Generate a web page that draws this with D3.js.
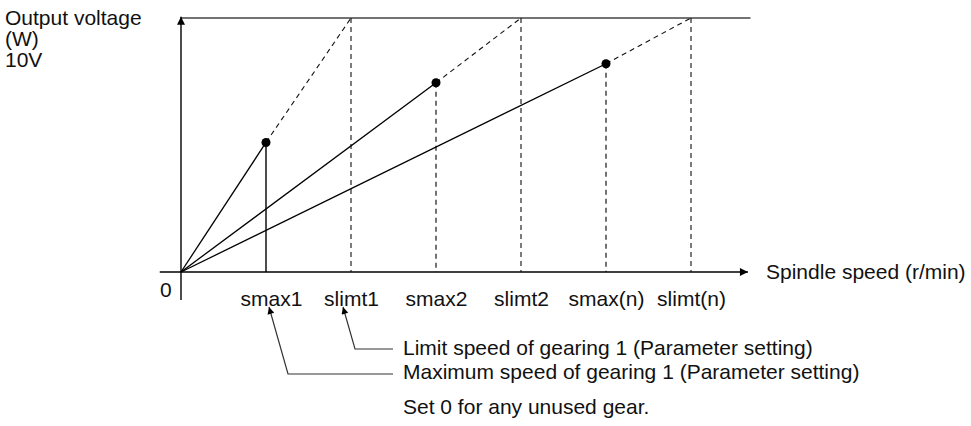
<!DOCTYPE html>
<html>
<head>
<meta charset="utf-8">
<script src="https://cdn.jsdelivr.net/npm/d3@7"></script>
<style>
  html, body { margin: 0; padding: 0; background: #fff; }
  svg text { font-family: Arial, "Liberation Sans", Helvetica, sans-serif; font-size: 21px; fill: #111; }
</style>
</head>
<body>
<svg id="chart" width="971" height="426"></svg>
<script>
// Spindle speed (r/min) at the maximum speed and at the limit speed of each gear
const gears = ["1", "2", "n"];
const smaxSpeeds = [1000, 3000, 5000];
const slimtSpeeds = [2000, 4000, 6000];
// Output voltage (V) reached at each maximum speed
const smaxVolts = [5.1, 7.45, 8.2];
const vFull = 10;

const tickSpeeds = [1000, 2000, 3000, 4000, 5000, 6000];
const tickLabels = ["smax1", "slimt1", "smax2", "slimt2", "smax(n)", "slimt(n)"];

const yTitle = ["Output voltage", "(W)", "10V"];
const xTitle = "Spindle speed (r/min)";
const notes = [
  "Limit speed of gearing 1 (Parameter setting)",
  "Maximum speed of gearing 1 (Parameter setting)",
  "Set 0 for any unused gear."
];

const svg = d3.select("#chart");
const x = d3.scaleLinear().domain([0, 6000]).range([181, 691]);
const y = d3.scaleLinear().domain([0, vFull]).range([272, 18]);

// arrowhead markers
const defs = svg.append("defs");
defs.append("marker")
  .attr("id", "axisArrow").attr("viewBox", "0 0 10 10")
  .attr("refX", 10).attr("refY", 5)
  .attr("markerWidth", 12).attr("markerHeight", 8)
  .attr("markerUnits", "userSpaceOnUse")
  .attr("orient", "auto")
  .append("path").attr("d", "M0,0 L10,5 L0,10 Z").attr("fill", "#000");
defs.append("marker")
  .attr("id", "noteArrow").attr("viewBox", "0 0 10 10")
  .attr("refX", 10).attr("refY", 5)
  .attr("markerWidth", 10).attr("markerHeight", 7)
  .attr("markerUnits", "userSpaceOnUse")
  .attr("orient", "auto")
  .append("path").attr("d", "M0,0 L10,5 L0,10 Z").attr("fill", "#000");

const g = svg.append("g");

// 10 V ceiling
g.append("line")
  .attr("x1", x(0)).attr("x2", x(6700))
  .attr("y1", y(vFull)).attr("y2", y(vFull))
  .attr("stroke", "#444").attr("stroke-width", 1.6);

// axes
g.append("line")
  .attr("x1", x(-250)).attr("x2", x(6670))
  .attr("y1", y(0)).attr("y2", y(0))
  .attr("stroke", "#000").attr("stroke-width", 1.4)
  .attr("marker-end", "url(#axisArrow)");
g.append("line")
  .attr("x1", x(0)).attr("x2", x(0))
  .attr("y1", y(-1.1)).attr("y2", y(10.05))
  .attr("stroke", "#000").attr("stroke-width", 1.4)
  .attr("marker-end", "url(#axisArrow)");

// limit-speed verticals (dashed)
g.selectAll("line.slimt").data(slimtSpeeds).join("line")
  .attr("class", "slimt")
  .attr("x1", d => x(d)).attr("x2", d => x(d))
  .attr("y1", y(vFull)).attr("y2", y(0))
  .attr("stroke", "#111").attr("stroke-width", 1.1)
  .attr("stroke-dasharray", "5,4");

// maximum-speed verticals: gear 1 solid, others dashed
g.selectAll("line.smax").data(smaxSpeeds).join("line")
  .attr("class", "smax")
  .attr("x1", d => x(d)).attr("x2", d => x(d))
  .attr("y1", (d, i) => y(smaxVolts[i])).attr("y2", y(0))
  .attr("stroke", "#000").attr("stroke-width", (d, i) => i === 0 ? 1.4 : 1.1)
  .attr("stroke-dasharray", (d, i) => i === 0 ? null : "5,4");

// voltage ramps from 0 up to smax
g.selectAll("line.ramp").data(smaxSpeeds).join("line")
  .attr("class", "ramp")
  .attr("x1", x(0)).attr("y1", y(0))
  .attr("x2", d => x(d)).attr("y2", (d, i) => y(smaxVolts[i]))
  .attr("stroke", "#000").attr("stroke-width", 1.3);

// continuation from smax to the limit speed (dashed)
g.selectAll("line.ext").data(smaxSpeeds).join("line")
  .attr("class", "ext")
  .attr("x1", d => x(d)).attr("y1", (d, i) => y(smaxVolts[i]))
  .attr("x2", (d, i) => x(slimtSpeeds[i])).attr("y2", y(vFull))
  .attr("stroke", "#111").attr("stroke-width", 1.1)
  .attr("stroke-dasharray", "5,4");

// points at smax
g.selectAll("circle.pt").data(smaxSpeeds).join("circle")
  .attr("class", "pt")
  .attr("cx", d => x(d)).attr("cy", (d, i) => y(smaxVolts[i]))
  .attr("r", 4.5).attr("fill", "#000");

// speed tick labels
const xAxis = d3.axisBottom(x)
  .tickValues(tickSpeeds)
  .tickFormat((d, i) => tickLabels[i])
  .tickSize(0).tickPadding(19);
const ax = g.append("g").attr("transform", `translate(0,${y(0)})`).call(xAxis);
ax.select(".domain").remove();
ax.selectAll("text")
  .attr("fill", "#111")
  .attr("dx", (d, i) => i === 0 ? 5 : 0)
  .style("font-size", "21px")
  .style("font-family", "Arial, 'Liberation Sans', sans-serif");

// origin label
g.append("text").attr("x", x(0) - 21).attr("y", y(0) + 25).text("0");

// axis titles
g.selectAll("text.ytitle").data(yTitle).join("text")
  .attr("class", "ytitle")
  .attr("x", 5).attr("y", (d, i) => 25 + i * 21)
  .text(d => d);
g.append("text").attr("x", 766).attr("y", y(0) + 7).text(xTitle);

// notes with leader lines
const noteY = [355, 379, 414];
g.selectAll("text.note").data(notes).join("text")
  .attr("class", "note")
  .attr("x", 403).attr("y", (d, i) => noteY[i])
  .text(d => d);

const leaders = [
  { speed: slimtSpeeds[0], bendX: 355, lineY: 349, tipX: 343 },
  { speed: smaxSpeeds[0], bendX: 288, lineY: 374, tipX: 269 }
];
g.selectAll("path.leader").data(leaders).join("path")
  .attr("class", "leader")
  .attr("d", d => `M393,${d.lineY} L${d.bendX},${d.lineY} L${d.tipX},307`)
  .attr("fill", "none").attr("stroke", "#333").attr("stroke-width", 1.2)
  .attr("marker-end", "url(#noteArrow)");
</script>
</body>
</html>
